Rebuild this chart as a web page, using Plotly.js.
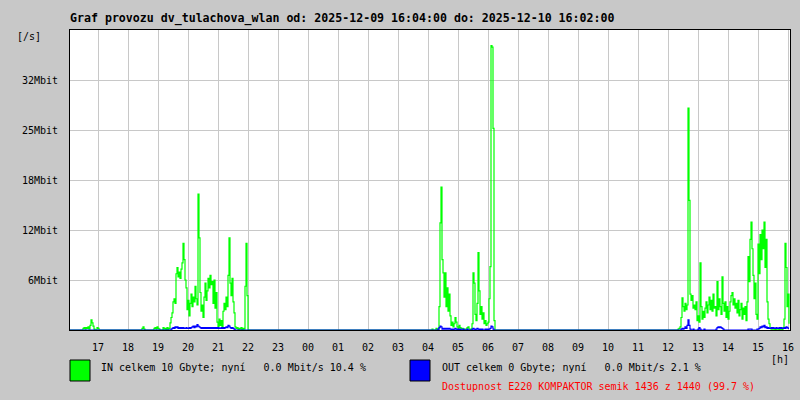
<!DOCTYPE html>
<html>
<head>
<meta charset="utf-8">
<script src="https://cdn.plot.ly/plotly-3.0.1.min.js"></script>
<style>html,body{margin:0;padding:0;background:#c8c8c8;}#chart{width:800px;height:400px;}</style>
</head>
<body>
<div id="chart"></div>
<script>
// Sampling: one value every 2 minutes, minutes counted from 2025-12-09 16:04
const sampleStep = 2;
const hourLabels = ["17","18","19","20","21","22","23","00","01","02","03","04","05","06","07","08","09","10","11","12","13","14","15","16"];
const firstHourMinute = 56; // 17:00 is 56 min after 16:04
const yTickLabels = ["6Mbit","12Mbit","18Mbit","25Mbit","32Mbit"];
const yTickValues = [6.4, 12.8, 19.2, 25.6, 32];

// IN traffic (Mbit/s), segments of activity
const inStartA = 24;
const inSegA = [0,0.2,0.3,0.1,0.3,0.2,0.4,0.1,0.6,1.3,0.9,0.5,0.1,0,0,0.3,0.2,0,0];
const inStartB = 140;
const inSegB = [
  0,0,0.2,0.4,0.1,0,0,0,0,0,
  0,0,0,0,0.2,0.3,0.1,0.4,0.2,0.1,
  0,0,0,0.3,0.1,0.2,0,0.3,0,0.2,
  0.9,1.6,2.2,3.6,4.0,3.4,7.2,8.0,6.8,7.4,
  6.6,7.8,8.6,11.1,9.0,6.4,5.4,2.6,3.8,1.8,
  3.4,4.6,3.0,4.2,3.6,5.6,4.0,3.2,17.4,11.8,
  4.8,2.4,3.2,1.6,4.2,6.0,3.8,5.0,6.6,5.4,
  7.0,5.8,6.2,3.4,6.4,2.8,4.8,1.0,0.4,1.4,
  0.6,1.2,0.3,2.4,3.4,2.6,4.2,3.0,7.0,11.8,
  6.0,4.4,6.6,3.6,2.2,0.4,0.2,0.3,0,0.2,
  0.1,0.3,0,0.2,0.1,5.6,11.1,4.4,0,0,0];
const inStartC = 720;
const inSegC = [
  0,0,0.1,0,0,0,0.2,0.1,0,3.0,
  13.7,18.3,9.0,7.3,4.2,7.3,3.0,5.4,2.4,4.6,
  1.8,0.6,1.0,0.4,0.8,1.6,1.0,0.4,0.2,0.6,
  0.3,0.1,0.2,0.1,0,0.1,0,0.3,0.4,0.1,
  0,0.1,0.8,7.3,6.0,2.0,1.2,3.4,9.9,5.0,
  2.0,3.0,1.4,2.2,0.8,1.2,0.6,0.8,1.0,4.0,
  8.1,36.4,36.2,25.8,1.2,0,0];
const inStartD = 1212;
const inSegD = [
  0,0,0.1,0.2,0.4,1.6,4.1,3.0,2.4,3.4,
  2.6,3.2,28.4,16.6,4.6,3.8,4.4,2.8,3.2,2.6,
  3.6,1.2,1.8,1.0,8.6,3.0,1.4,2.4,1.6,2.8,
  3.6,2.2,3.2,4.2,2.6,3.8,2.4,4.6,2.8,3.0,
  1.8,6.2,2.6,4.0,3.0,2.0,6.8,3.4,2.4,3.6,
  1.6,3.0,1.4,2.4,3.6,4.4,4.8,3.2,4.0,2.8,
  3.4,2.2,3.8,1.8,2.6,3.4,1.4,2.8,2.0,3.0,
  1.2,3.6,9.4,6.2,11.6,13.8,10.4,7.0,4.0,6.0,
  2.0,1.4,11.0,7.2,12.2,9.0,12.8,10.4,13.8,8.0,
  11.6,3.6,1.4,0.8,0.2,0.1,0.3,0.1,0.2,0,
  0.1,0.2,0.1,0,0.2,0.1,0,0.3,1.4,11.1,
  8.0,3.0,4.6,0.8];

// OUT traffic (Mbit/s)
const outStartB = 200;
const outSegB = [
  0,0.1,0.2,0.3,0.2,0.4,0.3,0.4,0.2,0.3,
  0.2,0.3,0.2,0.3,0.2,0.2,0.3,0.2,0.2,0.3,
  0.2,0.3,0.4,0.5,0.3,0.5,0.4,0.7,0.5,0.4,
  0.3,0.2,0.3,0.2,0.3,0.2,0.3,0.2,0.3,0.2,
  0.3,0.2,0.3,0.2,0.3,0.2,0.3,0.2,0.3,0.2,
  0.2,0.3,0.2,0.3,0.2,0.3,0.4,0.3,0.6,0.5,
  0.3,0.2,0.3,0.2,0.1,0,0];
const outStartC = 732;
const outSegC = [
  0,0,0.1,0.3,0.5,0.4,0.1,0.2,0.1,0.2,
  0.1,0.2,0.1,0.2,0.1,0,0.1,0,0.1,0.2,
  0.1,0,0.1,0,0.1,0,0,0.1,0,0,
  0,0.1,0,0,0,0,0.1,0.2,0.1,0,
  0.1,0.2,0.1,0,0.1,0,0.1,0,0,0.1,
  0,0.1,0,0.1,0.2,0.5,0.4,0.1,0,0];
const outStartD = 1220;
const outSegD = [
  0,0.1,0.2,0.1,0.2,0.4,0.2,0.6,1.3,0.6,
  0.1,0,0,0.1,0,0,0,0,0.1,0.3,
  0.1,0,0,0,0.1,0,0,0,0,0,
  0,0,0,0,0,0,0.1,0.3,0.4,0.3,
  0.4,0.3,0.2,0.1,0,0,0,0,0,0,
  0,0,0,0,0,0,0,0,0,0,
  0,0,0,0,0,0,0,0,0.1,0.1,
  0.1,0.1,0,0,0,0,0,0.1,0.1,0.2,
  0.4,0.3,0.5,0.4,0.6,0.3,0.4,0.2,0.3,0.2,
  0.2,0.3,0.2,0.3,0.2,0.2,0.3,0.2,0.2,0.3,
  0.2,0.3,0.2,0.2,0.3,0.2,0.4,0.3,0.2,0.2];

const titleText = "Graf provozu dv_tulachova_wlan od: 2025-12-09 16:04:00 do: 2025-12-10 16:02:00";
const inLegend = "IN celkem 10 Gbyte; nyní   0.0 Mbit/s 10.4 %";
const outLegend = "OUT celkem 0 Gbyte; nyní   0.0 Mbit/s 2.1 %";
const availText = "Dostupnost E220 KOMPAKTOR semik 1436 z 1440 (99.7 %)";

function build(segments) {
  const xs = [0], ys = [0];
  segments.forEach(([start, vals]) => {
    vals.forEach((v, i) => { xs.push(start + i * sampleStep); ys.push(v); });
  });
  return {xs, ys};
}
const inData = build([[inStartA, inSegA],[inStartB, inSegB],[inStartC, inSegC],[inStartD, inSegD]]);
const outData = build([[outStartB, outSegB],[outStartC, outSegC],[outStartD, outSegD]]);

const mono = "DejaVu Sans Mono, monospace";
const nb = s => s.replace(/ /g, "\u00a0");

const traces = [
  {x: inData.xs, y: inData.ys, type: "scatter", mode: "lines", line: {color: "#00ff00", width: 1.2, shape: "hv"}, hoverinfo: "skip"},
  {x: outData.xs, y: outData.ys, type: "scatter", mode: "lines", line: {color: "#0000ff", width: 1.2, shape: "hv"}, hoverinfo: "skip"}
];

const layout = {
  width: 800, height: 400,
  margin: {l: 70, r: 10, t: 30, b: 70, pad: 0},
  paper_bgcolor: "#c8c8c8",
  plot_bgcolor: "#ffffff",
  showlegend: false,
  font: {family: mono, size: 10, color: "#000"},
  title: {text: titleText, font: {family: mono, size: 11.6, weight: "bold", color: "#000"},
          xref: "paper", x: 0, xanchor: "left", yref: "container", y: 1 - 18/400, yanchor: "middle"},
  xaxis: {
    range: [0, 1440], tickmode: "array",
    tickvals: hourLabels.map((_, i) => firstHourMinute + 60 * i),
    ticktext: hourLabels, ticks: "", ticklabelstandoff: 8,
    showgrid: true, gridcolor: "#c8c8c8", gridwidth: 1,
    showline: true, linecolor: "#000", linewidth: 1, mirror: true,
    zeroline: false, fixedrange: true, tickfont: {family: mono, size: 10}
  },
  yaxis: {
    range: [0, 38.4], tickmode: "array", tickvals: yTickValues, ticktext: yTickLabels,
    ticks: "", ticklabelstandoff: 9,
    showgrid: true, gridcolor: "#c8c8c8", gridwidth: 1,
    showline: true, linecolor: "#000", linewidth: 1, mirror: true,
    zeroline: false, fixedrange: true, tickfont: {family: mono, size: 10}
  },
  shapes: [
    {type: "rect", xref: "paper", yref: "paper", x0: 0, x1: 20/720, y0: -51/300, y1: -30/300,
     fillcolor: "#00ff00", line: {color: "#000", width: 1}},
    {type: "rect", xref: "paper", yref: "paper", x0: 340/720, x1: 360/720, y0: -51/300, y1: -30/300,
     fillcolor: "#0000ff", line: {color: "#000", width: 1}}
  ],
  annotations: [
    {text: "[/s]", xref: "paper", yref: "paper", x: -55/720, y: (330-37)/300, xanchor: "left", yanchor: "middle", showarrow: false, font: {family: mono, size: 10}},
    {text: "[h]", xref: "paper", yref: "paper", x: 699/720, y: -29/300, xanchor: "left", yanchor: "middle", showarrow: false, font: {family: mono, size: 10}},
    {text: nb(inLegend), xref: "paper", yref: "paper", x: 29/720, y: -37/300, xanchor: "left", yanchor: "middle", showarrow: false, font: {family: mono, size: 10}},
    {text: nb(outLegend), xref: "paper", yref: "paper", x: 370/720, y: -37/300, xanchor: "left", yanchor: "middle", showarrow: false, font: {family: mono, size: 10}},
    {text: nb(availText), xref: "paper", yref: "paper", x: 370/720, y: -56/300, xanchor: "left", yanchor: "middle", showarrow: false, font: {family: mono, size: 10, color: "#ff0000"}}
  ]
};

Plotly.newPlot("chart", traces, layout, {staticPlot: true, displayModeBar: false});
</script>
</body>
</html>
